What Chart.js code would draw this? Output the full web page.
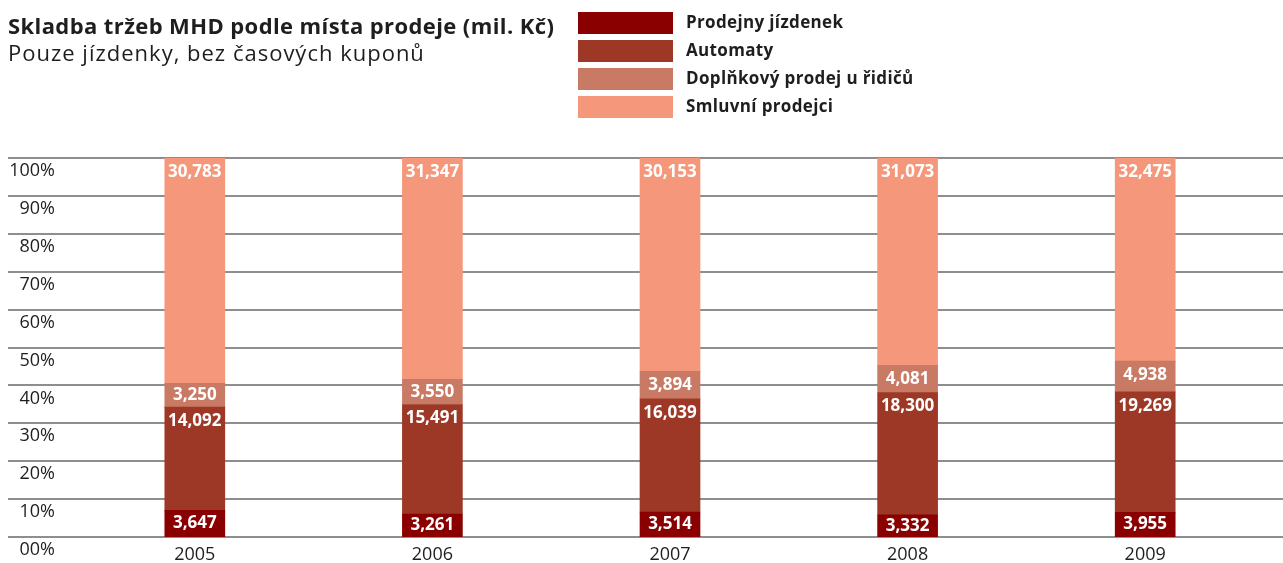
<!DOCTYPE html>
<html><head><meta charset="utf-8">
<script src="https://cdn.jsdelivr.net/npm/chart.js@4"></script>
<style>
html,body{margin:0;padding:0;background:#fff;}
#wrap{position:relative;width:1283px;height:563px;overflow:hidden;}
#c{position:absolute;left:0;top:0;}
#title{position:absolute;left:8px;top:11px;font:bold 22px "Open Sans",sans-serif;letter-spacing:0.4px;color:#1e1e1e;white-space:nowrap;line-height:28px;}
#subtitle{position:absolute;left:8px;top:38px;font:22px "Open Sans",sans-serif;letter-spacing:1px;color:#1e1e1e;white-space:nowrap;line-height:28px;}
#legend{position:absolute;left:578px;top:12px;}
.li{display:flex;align-items:center;height:22px;margin-bottom:6px;}
.lb{width:95px;height:22px;margin-right:13px;}
.lt{font:bold 17px "Open Sans",sans-serif;letter-spacing:0.35px;color:#1e1e1e;white-space:nowrap;margin-top:-4px;}
</style></head>
<body><div id="wrap">
<canvas id="c" width="1283" height="563"></canvas>
<div id="title">Skladba tržeb MHD podle místa prodeje (mil. Kč)</div>
<div id="subtitle">Pouze jízdenky, bez časových kuponů</div>
<div id="legend"></div>
</div>
<script>
const years = ['2005','2006','2007','2008','2009'];
const seriesNames = ['Prodejny jízdenek','Automaty','Doplňkový prodej u řidičů','Smluvní prodejci'];
const prodejny  = [3647, 3261, 3514, 3332, 3955];
const automaty  = [14092, 15491, 16039, 18300, 19269];
const doplnkovy = [3250, 3550, 3894, 4081, 4938];
const smluvni   = [30783, 31347, 30153, 31073, 32475];
const yTickValues = [0,10,20,30,40,50,60,70,80,90,100];

const colors = ['#8a0000','#9d3826','#c97a64','#f4977a'];
const raw = [prodejny, automaty, doplnkovy, smluvni];
const totals = years.map((_, i) => raw.reduce((s, arr) => s + arr[i], 0));

const datasets = raw.map((arr, k) => ({
  label: seriesNames[k],
  data: arr.map((v, i) => v / totals[i] * 100),
  rawValues: arr,
  backgroundColor: colors[k],
  borderWidth: 0,
  barThickness: 60
}));

const fmt = v => v.toLocaleString('en-US');

const gridPlugin = {
  id: 'fullGrid',
  beforeDatasetsDraw(chart) {
    const y = chart.scales.y, ctx = chart.ctx;
    ctx.save();
    ctx.strokeStyle = '#8e8e8e';
    ctx.lineWidth = 2;
    yTickValues.forEach(v => {
      const py = Math.round(y.getPixelForValue(v));
      ctx.beginPath();
      ctx.moveTo(8, py);
      ctx.lineTo(chart.width, py);
      ctx.stroke();
    });
    ctx.restore();
  }
};

const labelPlugin = {
  id: 'segLabels',
  afterDatasetsDraw(chart) {
    const ctx = chart.ctx;
    ctx.save();
    ctx.fillStyle = '#ffffff';
    ctx.font = 'bold 17px "Open Sans", sans-serif';
    ctx.textAlign = 'center';
    ctx.textBaseline = 'middle';
    chart.data.datasets.forEach((ds, di) => {
      const meta = chart.getDatasetMeta(di);
      meta.data.forEach((el, i) => {
        const top = Math.min(el.y, el.base), h = Math.abs(el.base - el.y);
        const yy = top + Math.min(h / 2, 14);
        ctx.fillText(fmt(ds.rawValues[i]), el.x, yy);
      });
    });
    ctx.restore();
  }
};

const chart = new Chart(document.getElementById('c'), {
  type: 'bar',
  data: { labels: years, datasets },
  options: {
    responsive: false,
    animation: false,
    layout: { padding: { top: 158, right: 19, left: 0, bottom: 0 } },
    plugins: { legend: { display: false }, tooltip: { enabled: false }, title: { display: false } },
    scales: {
      x: {
        stacked: true,
        grid: { display: false, drawTicks: false },
        border: { display: false },
        ticks: { color: '#1e1e1e', font: { family: '"Open Sans", sans-serif', size: 18 }, padding: 7 },
        afterFit(s) { s.height = 26; }
      },
      y: {
        stacked: true,
        min: 0, max: 100,
        afterBuildTicks(s) { s.ticks = yTickValues.map(v => ({ value: v })); },
        grid: { display: false, drawTicks: false },
        border: { display: false },
        ticks: {
          color: '#1e1e1e',
          font: { family: '"Open Sans", sans-serif', size: 18 },
          padding: 21,
          labelOffset: 13,
          callback: v => (v === 0 ? '00%' : v + '%')
        },
        afterFit(s) { s.width = 76; s.paddingTop = 0; s.paddingBottom = 0; }
      }
    }
  },
  plugins: [gridPlugin, labelPlugin]
});

const legend = document.getElementById('legend');
chart.data.datasets.forEach(ds => {
  const row = document.createElement('div'); row.className = 'li';
  const b = document.createElement('div'); b.className = 'lb'; b.style.background = ds.backgroundColor;
  const t = document.createElement('div'); t.className = 'lt'; t.textContent = ds.label;
  row.appendChild(b); row.appendChild(t); legend.appendChild(row);
});
</script>
</body></html>
